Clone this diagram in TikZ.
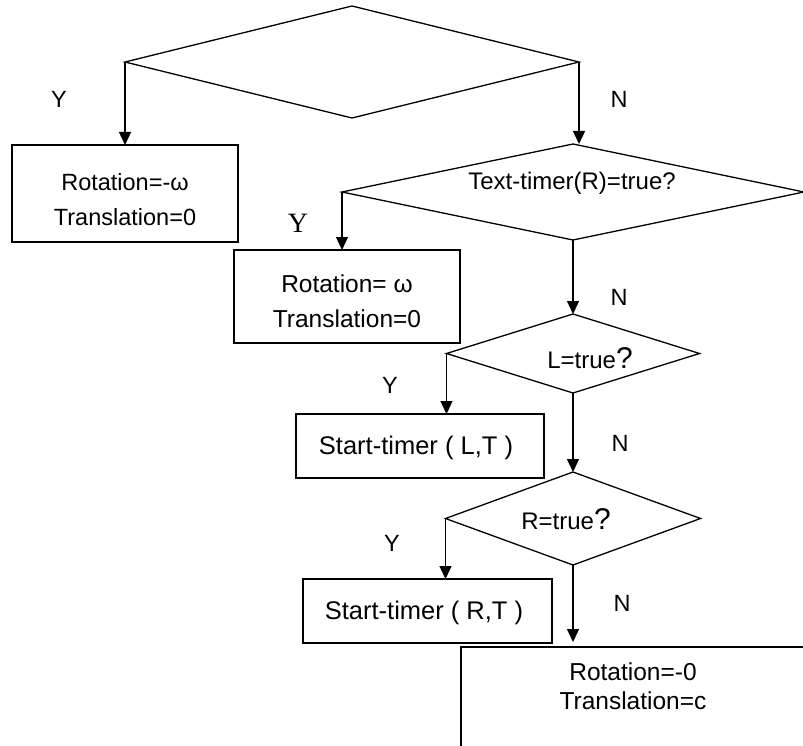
\documentclass[tikz,border=0pt]{standalone}
\usepackage{fontspec}
\setmainfont{Liberation Sans}
\newfontfamily\serifletter{Liberation Serif}
\usetikzlibrary{shapes.geometric,arrows.meta}
\begin{document}
\begin{tikzpicture}[x=1pt,y=-1pt,
  flow/.style={line width=1.3pt},
  arr/.style={flow,-{Triangle[width=12pt,length=13pt]}},
  decision/.style={flow,draw,diamond,inner sep=0pt,outer sep=0pt},
  box/.style={flow,draw,rectangle,inner sep=0pt,outer sep=0pt},
  txt/.style={font=\fontsize{24}{35}\selectfont,align=center,inner sep=0pt},
  bigq/.style={font=\fontsize{30}{30}\selectfont},
  yn/.style={font=\fontsize{23.5}{23.5}\selectfont,inner sep=0pt}]
\clip (0,0) rectangle (803,746);

% decisions
\node[decision,minimum width=454pt,minimum height=112pt] (d1) at (352,62) {};
\node[decision,minimum width=462pt,minimum height=96pt] (d2) at (573,192) {};
\node[decision,minimum width=253pt,minimum height=79pt] (d3) at (573,353.5) {};
\node[decision,minimum width=255pt,minimum height=93pt] (d4) at (573,518.5) {};

\node[txt] (d2t) at (572,183) {Text-timer(R)=true?};
\node[txt] (d3t) at (590,358) {L=true{\fontsize{30}{30}\selectfont ?}};
\node[txt] (d4t) at (566,519) {R=true{\fontsize{30}{30}\selectfont ?}};

% actions
\node[box,minimum width=226pt,minimum height=97pt] (b1) at (125,193.5) {};
\node[box,minimum width=226pt,minimum height=93pt] (b2) at (347,296.5) {};
\node[box,minimum width=248pt,minimum height=64pt] (b3) at (420,446) {};
\node[box,minimum width=249pt,minimum height=64pt] (b4) at (427.5,611) {};
\node[box,minimum width=344pt,minimum height=200pt] (b5) at (633,747) {};

\node[txt,font=\fontsize{23.5}{35}\selectfont] (b1t) at (125,199.5) {Rotation=-ω\\Translation=0};
\node[txt,font=\fontsize{24.5}{35}\selectfont] (b2t) at (347,301.5) {Rotation= ω\\Translation=0};
\node[txt,font=\fontsize{25.5}{30}\selectfont] (b3t) at (416,448) {Start-timer ( L,T )};
\node[txt,font=\fontsize{25.5}{30}\selectfont] (b4t) at (424,613) {Start-timer ( R,T )};
\node[txt,font=\fontsize{24.5}{29}\selectfont] (b5t) at (633,686.5) {Rotation=-0\\Translation=c};

% connectors
\draw[arr] (d1.west) -- (d1.west |- b1.north);
\draw[arr] (d1.east) -- (d1.east |- d2.north);
\draw[arr] (d2.west) -- (d2.west |- b2.north);
\draw[arr] (d2.south) -- (d3.north);
\draw[arr] (d3.west) -- (d3.west |- b3.north);
\draw[arr] (d3.south) -- (d4.north);
\draw[arr] (d4.west) -- (d4.west |- b4.north);
\draw[arr,shorten >=5pt] (d4.south) -- (d4.south |- b5.north);

% branch labels
\node[yn] (y1) at (59,99) {Y};
\node[yn] (n1) at (619,99) {N};
\node[yn,font=\fontsize{28}{28}\serifletter] (y2) at (298,223) {Y};
\node[yn] (n2) at (619,297) {N};
\node[yn] (y3) at (390,385) {Y};
\node[yn] (n3) at (620,443) {N};
\node[yn] (y4) at (392,543) {Y};
\node[yn] (n4) at (622,603) {N};
\end{tikzpicture}
\end{document}
